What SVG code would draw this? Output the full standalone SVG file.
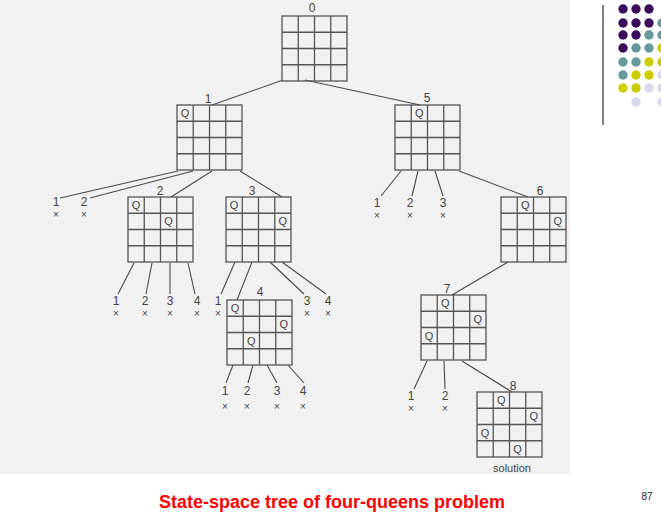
<svg xmlns="http://www.w3.org/2000/svg" xmlns:xlink="http://www.w3.org/1999/xlink" width="661" height="523" viewBox="0 0 661 523">
<style>
.grid{fill:none;stroke:#555;stroke-width:1.3}
.q{font-family:"Liberation Sans",Arial,sans-serif;font-size:11px;fill:#444;text-anchor:middle}
.lbl{font-family:"Liberation Sans",Arial,sans-serif;font-size:12px;fill:#444;text-anchor:middle}
.lf{font-family:"Liberation Sans",Arial,sans-serif;font-size:12px;fill:#444;text-anchor:middle}
.lf tspan.x{font-size:10px;fill:#444}
.con line{stroke:#4a4a4a;stroke-width:1.1}
.cap{font-family:"Liberation Sans",Arial,sans-serif;font-size:18px;font-weight:bold;fill:#ff0000}
.pg{font-family:"Liberation Sans",Arial,sans-serif;font-size:10px;fill:#222;text-anchor:middle}
.P{fill:#3b0b5c}.T{fill:#669999}.Y{fill:#cccc00}.L{fill:#d9d9ec}
</style>
<defs>
<g id="board">
<rect class="grid" x="0" y="0" width="65" height="65"/>
<path class="grid" d="M16.25 0V65M32.5 0V65M48.75 0V65M0 16.25H65M0 32.5H65M0 48.75H65"/>
</g>
</defs>
<rect x="0" y="0" width="661" height="523" fill="#ffffff"/>
<rect x="0" y="0" width="570" height="474" fill="#f1f1f1"/>

<g id="decor">
<line x1="603" y1="5" x2="603" y2="125" stroke="#808080" stroke-width="2"/>
<circle class="P" cx="623" cy="9" r="4.7"/><circle class="P" cx="636" cy="9" r="4.7"/><circle class="P" cx="649" cy="9" r="4.7"/>
<circle class="P" cx="623" cy="23" r="4.7"/><circle class="P" cx="636" cy="23" r="4.7"/><circle class="P" cx="649" cy="23" r="4.7"/><circle class="T" cx="662" cy="23" r="4.7"/>
<circle class="P" cx="623" cy="35" r="4.7"/><circle class="P" cx="636" cy="35" r="4.7"/><circle class="T" cx="649" cy="35" r="4.7"/><circle class="T" cx="662" cy="35" r="4.7"/>
<circle class="P" cx="623" cy="48" r="4.7"/><circle class="T" cx="636" cy="48" r="4.7"/><circle class="T" cx="649" cy="48" r="4.7"/><circle class="Y" cx="662" cy="48" r="4.7"/>
<circle class="T" cx="623" cy="62" r="4.7"/><circle class="T" cx="636" cy="62" r="4.7"/><circle class="Y" cx="649" cy="62" r="4.7"/><circle class="Y" cx="662" cy="62" r="4.7"/>
<circle class="T" cx="623" cy="75" r="4.7"/><circle class="Y" cx="636" cy="75" r="4.7"/><circle class="Y" cx="649" cy="75" r="4.7"/><circle class="L" cx="662" cy="75" r="4.7"/>
<circle class="Y" cx="623" cy="88" r="4.7"/><circle class="Y" cx="636" cy="88" r="4.7"/><circle class="L" cx="649" cy="88" r="4.7"/><circle class="L" cx="662" cy="88" r="4.7"/>
<circle class="L" cx="636" cy="102" r="4.7"/><circle class="L" cx="662" cy="102" r="4.7"/>
</g>

<g class="con" id="connectors">
<line x1="283" y1="80" x2="212" y2="105"/>
<line x1="305" y1="80" x2="420" y2="105"/>
<line x1="178" y1="171" x2="60" y2="198"/>
<line x1="193" y1="171" x2="90" y2="198"/>
<line x1="212" y1="171" x2="171" y2="197"/>
<line x1="240" y1="171" x2="282" y2="197"/>
<line x1="401" y1="171" x2="381" y2="196"/>
<line x1="418" y1="171" x2="412" y2="196"/>
<line x1="435" y1="171" x2="443" y2="196"/>
<line x1="459" y1="171" x2="528" y2="197"/>
<line x1="134" y1="263" x2="118" y2="294"/>
<line x1="152" y1="263" x2="146" y2="294"/>
<line x1="170" y1="263" x2="170" y2="294"/>
<line x1="188" y1="263" x2="195" y2="294"/>
<line x1="235" y1="262" x2="221" y2="294"/>
<line x1="252" y1="262" x2="237" y2="300"/>
<line x1="270" y1="262" x2="304" y2="294"/>
<line x1="282" y1="262" x2="326" y2="294"/>
<line x1="233" y1="365" x2="226" y2="383"/>
<line x1="253" y1="365" x2="248" y2="383"/>
<line x1="267" y1="365" x2="277" y2="383"/>
<line x1="288" y1="365" x2="304" y2="383"/>
<line x1="508" y1="262" x2="452" y2="295"/>
<line x1="427" y1="361" x2="414" y2="389"/>
<line x1="444" y1="361" x2="445" y2="389"/>
<line x1="462" y1="361" x2="512" y2="392"/>
</g>

<g id="n0"><use href="#board" x="282" y="16"/><text class="lbl" x="312" y="12">0</text></g>
<g id="n1"><use href="#board" x="177" y="105"/><text class="lbl" x="208" y="103">1</text>
<text class="q" x="185.1" y="117.2">Q</text></g>
<g id="n5"><use href="#board" x="395" y="105"/><text class="lbl" x="427" y="102">5</text>
<text class="q" x="419.4" y="117.2">Q</text></g>
<g id="n2"><use href="#board" x="128" y="197"/><text class="lbl" x="160" y="195">2</text>
<text class="q" x="136.1" y="209.2">Q</text><text class="q" x="168.6" y="225.4">Q</text></g>
<g id="n3"><use href="#board" x="226" y="197"/><text class="lbl" x="252" y="195">3</text>
<text class="q" x="234.1" y="209.2">Q</text><text class="q" x="282.9" y="225.4">Q</text></g>
<g id="n6"><use href="#board" x="501" y="197"/><text class="lbl" x="540" y="195">6</text>
<text class="q" x="525.4" y="209.2">Q</text><text class="q" x="557.9" y="225.4">Q</text></g>
<g id="n4"><use href="#board" x="227" y="300"/><text class="lbl" x="260" y="296">4</text>
<text class="q" x="235.1" y="312.2">Q</text><text class="q" x="283.9" y="328.4">Q</text><text class="q" x="251.4" y="344.7">Q</text></g>
<g id="n7"><use href="#board" x="421" y="295"/><text class="lbl" x="447" y="293">7</text>
<text class="q" x="445.4" y="307.2">Q</text><text class="q" x="477.9" y="323.4">Q</text><text class="q" x="429.1" y="339.7">Q</text></g>
<g id="n8"><use href="#board" x="477" y="392"/><text class="lbl" x="513" y="390">8</text>
<text class="q" x="501.4" y="404.2">Q</text><text class="q" x="533.9" y="420.4">Q</text><text class="q" x="485.1" y="436.7">Q</text><text class="q" x="517.6" y="452.9">Q</text>
<text class="lbl" x="512" y="472" style="font-size:11px">solution</text></g>

<g id="leaves1">
<text class="lf" x="56" y="206">1<tspan class="x" x="56" dy="12">×</tspan></text>
<text class="lf" x="84" y="206">2<tspan class="x" x="84" dy="12">×</tspan></text>
</g>
<g id="leaves5">
<text class="lf" x="377" y="207">1<tspan class="x" x="377" dy="12">×</tspan></text>
<text class="lf" x="410" y="207">2<tspan class="x" x="410" dy="12">×</tspan></text>
<text class="lf" x="443" y="207">3<tspan class="x" x="443" dy="12">×</tspan></text>
</g>
<g id="leaves2">
<text class="lf" x="116" y="305">1<tspan class="x" x="116" dy="12">×</tspan></text>
<text class="lf" x="145" y="305">2<tspan class="x" x="145" dy="12">×</tspan></text>
<text class="lf" x="170" y="305">3<tspan class="x" x="170" dy="12">×</tspan></text>
<text class="lf" x="197" y="305">4<tspan class="x" x="197" dy="12">×</tspan></text>
</g>
<g id="leaves3">
<text class="lf" x="218" y="305">1<tspan class="x" x="218" dy="12">×</tspan></text>
<text class="lf" x="307" y="305">3<tspan class="x" x="307" dy="12">×</tspan></text>
<text class="lf" x="328" y="305">4<tspan class="x" x="328" dy="12">×</tspan></text>
</g>
<g id="leaves4">
<text class="lf" x="225" y="395">1<tspan class="x" x="225" dy="15">×</tspan></text>
<text class="lf" x="247" y="395">2<tspan class="x" x="247" dy="15">×</tspan></text>
<text class="lf" x="277" y="395">3<tspan class="x" x="277" dy="15">×</tspan></text>
<text class="lf" x="303" y="395">4<tspan class="x" x="303" dy="15">×</tspan></text>
</g>
<g id="leaves7">
<text class="lf" x="411" y="400">1<tspan class="x" x="411" dy="12">×</tspan></text>
<text class="lf" x="445" y="400">2<tspan class="x" x="445" dy="12">×</tspan></text>
</g>

<text class="cap" x="159" y="508">State-space tree of four-queens problem</text>
<text class="pg" x="647" y="500">87</text>
</svg>
